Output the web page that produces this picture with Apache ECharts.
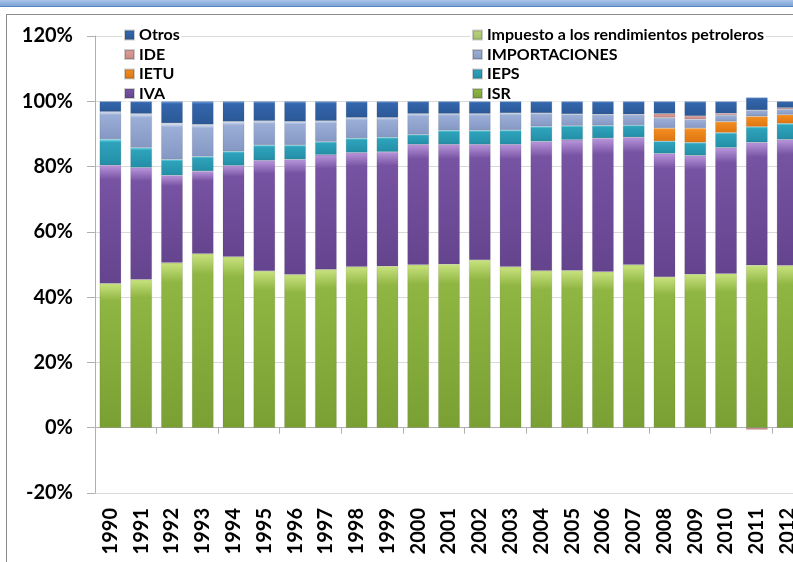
<!DOCTYPE html>
<html>
<head>
<meta charset="utf-8">
<script src="https://cdn.jsdelivr.net/npm/echarts@6/dist/echarts.min.js"></script>
<style>
  html, body { margin: 0; padding: 0; background: #fff; overflow: hidden; }
  body { width: 793px; height: 562px; position: relative; }
  .top-band {
    position: absolute; left: 0; top: 0; width: 793px; height: 6px;
    background: linear-gradient(#a9c4e8, #7da3d6);
    border-bottom: 1px solid #5a86c5;
  }
  .frame {
    position: absolute; left: 6px; top: 14px; width: 900px; height: 600px;
    border-left: 1px solid #8c8c8c; border-top: 1px solid #8c8c8c;
  }
  #chart { position: absolute; left: 0; top: 0; width: 830px; height: 562px; }
</style>
</head>
<body>
<div class="top-band"></div>
<div class="frame"></div>
<div id="chart"></div>
<script>
// años
const years = ['1990', '1991', '1992', '1993', '1994', '1995', '1996', '1997', '1998', '1999', '2000',
  '2001', '2002', '2003', '2004', '2005', '2006', '2007', '2008', '2009', '2010', '2011', '2012']

// participación de cada impuesto (%), null = sin dato
const isr = [44.2, 45.4, 50.5, 53.3, 52.4, 48.0, 46.9, 48.5, 49.3, 49.5, 49.9, 50.1, 51.4, 49.3, 48.1, 48.2, 47.8, 49.9, 46.2, 47.0, 47.2, 49.8, 49.7]
const iva = [36.2, 34.3, 26.8, 25.3, 27.9, 33.9, 35.3, 35.1, 35.0, 35.0, 36.9, 36.7, 35.4, 37.5, 39.6, 40.0, 40.9, 39.1, 37.8, 36.4, 38.6, 37.6, 38.6]
const ieps = [8.0, 6.1, 4.9, 4.5, 4.4, 4.7, 4.4, 4.0, 4.4, 4.5, 3.0, 4.3, 4.3, 4.4, 4.6, 4.3, 3.9, 3.7, 3.8, 4.0, 4.6, 4.8, 4.9]
const ietu = [null, null, null, null, null, null, null, null, null, null, null, null, null, null, null, null, null, null, 4.0, 4.4, 3.4, 3.2, 2.7]
const importaciones = [8.4, 10.4, 11.1, 9.8, 9.1, 7.4, 7.2, 6.4, 6.3, 6.0, 6.4, 5.1, 5.1, 5.2, 4.1, 3.6, 3.4, 3.3, 3.2, 2.7, 2.0, 1.9, 1.7]
const ide = [null, null, null, null, null, null, null, null, null, null, null, null, null, null, null, null, null, null, 1.2, 1.0, 0.5, -0.6, 0.4]
const petroleros = [null, null, null, null, null, null, null, null, null, null, null, null, null, null, null, null, null, null, null, null, null, null, null]
const otros = [3.2, 3.8, 6.7, 7.1, 6.2, 6.0, 6.2, 6.0, 5.0, 5.0, 3.8, 3.8, 3.8, 3.6, 3.6, 3.9, 4.0, 4.0, 3.8, 4.5, 3.7, 3.9, 2.0]

const yTicks = { min: -20, max: 120, interval: 20 }

const FONT = 'Lato'

// degradado estilo Excel: franja clara arriba
function shade(light, base, dark) {
  return new echarts.graphic.LinearGradient(0, 0, 0, 1, [
    { offset: 0, color: light },
    { offset: 0.12, color: base },
    { offset: 1, color: dark }
  ])
}

function bar(name, data, light, base, dark) {
  return {
    name,
    type: 'bar',
    stack: 'total',
    data,
    z: 3,
    barCategoryGap: '30%',
    itemStyle: {
      color: shade(light, base, dark),
      borderColor: 'rgba(60,60,60,0.25)',
      borderWidth: 0.5
    },
    emphasis: { disabled: true }
  }
}

const chart = echarts.init(document.getElementById('chart'))

const legendText = { fontFamily: FONT, fontWeight: 'bold', fontSize: 16, color: '#000', lineHeight: 16 }

// la leyenda tapa la línea de 120% pero queda debajo de las barras
const legendBase = {
  orient: 'vertical',
  top: 27,
  z: 1,
  itemWidth: 9, itemHeight: 9, itemGap: 3.5,
  icon: 'rect',
  padding: [0, 2],
  backgroundColor: '#fff',
  textStyle: legendText
}

chart.setOption({
  animation: false,
  grid: { left: 95, right: 27, top: 36, bottom: 69 },
  legend: [
    Object.assign({}, legendBase, { data: ['Otros', 'IDE', 'IETU', 'IVA'], left: 122 }),
    Object.assign({}, legendBase, {
      data: ['Impuesto a los rendimientos petroleros', 'IMPORTACIONES', 'IEPS', 'ISR'],
      left: 470
    })
  ],
  xAxis: [
    {
      type: 'category',
      data: years,
      axisLine: { onZero: true, lineStyle: { color: '#b0b0b0' } },
      axisTick: { show: true, length: 6, lineStyle: { color: '#b0b0b0' } },
      axisLabel: { show: false }
    },
    {
      type: 'category',
      data: years,
      position: 'bottom',
      axisLine: { show: false, onZero: false },
      axisTick: { show: false },
      axisLabel: {
        rotate: 90,
        margin: 15,
        fontFamily: FONT, fontWeight: 'bold', fontSize: 20, color: '#000'
      }
    }
  ],
  yAxis: {
    type: 'value',
    min: yTicks.min,
    max: yTicks.max,
    interval: yTicks.interval,
    axisLine: { show: true, lineStyle: { color: '#b0b0b0' } },
    axisTick: { show: true, length: 8, lineStyle: { color: '#b0b0b0' } },
    splitLine: { lineStyle: { color: '#d9d9d9' } },
    axisLabel: {
      formatter: '{value}%',
      margin: 22,
      fontFamily: FONT, fontWeight: 'bold', fontSize: 20, color: '#000'
    }
  },
  series: [
    bar('ISR', isr, '#c9e37f', '#8fb542', '#7aa034'),
    bar('IVA', iva, '#b996dc', '#7753a3', '#65448e'),
    bar('IEPS', ieps, '#7ee6f4', '#2ea3bc', '#238ea6'),
    bar('IETU', ietu, '#ffc277', '#f28b1f', '#de7612'),
    bar('IMPORTACIONES', importaciones, '#e3eaf8', '#9aaed6', '#8598c4'),
    bar('IDE', ide, '#f6d6d4', '#dc9c9a', '#c88886'),
    bar('Impuesto a los rendimientos petroleros', petroleros, '#e2f0bf', '#b7d27c', '#a3c068'),
    bar('Otros', otros, '#7aa8e6', '#3466ad', '#2b5896')
  ]
})
</script>
</body>
</html>
